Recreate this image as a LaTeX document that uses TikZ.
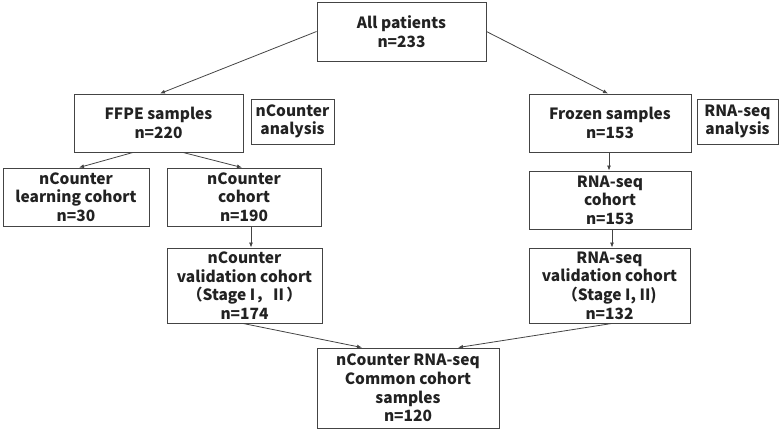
\documentclass[tikz,border=0pt]{standalone}
\usepackage{fontspec}
\setmainfont{Noto Sans CJK JP}
\usetikzlibrary{arrows.meta}
\definecolor{boxline}{HTML}{444444}
\definecolor{txt}{HTML}{222222}
\tikzset{
  box/.style={draw=boxline, line width=0.9pt, rectangle, align=center, inner sep=0pt,
    text=txt, font=\fontsize{15.5}{18.6}\selectfont\bfseries},
  arr/.style={draw=boxline, line width=0.8pt, -{Latex[length=5pt,width=4pt]}}
}
\begin{document}
\begin{tikzpicture}[x=1pt,y=-1pt]
\useasboundingbox (0,0) rectangle (780,431);
\node[box, minimum width=169, minimum height=59] (all) at (401.5,31.5) {All patients\\n=233};
\node[box, minimum width=169, minimum height=58] (ffpe) at (158.5,123) {FFPE samples\\n=220};
\node[box, minimum width=83, minimum height=45] (nana) at (292.5,121.5) {nCounter\\analysis};
\node[box, minimum width=146, minimum height=58] (learn) at (76,197) {nCounter\\learning cohort\\n=30};
\node[box, minimum width=154, minimum height=58] (ncoh) at (244,197) {nCounter\\cohort\\n=190};
\node[box, minimum width=155, minimum height=75] (nval) at (244.5,285.5) {nCounter\\validation cohort\\（Stage I，Ⅱ）\\n=174};
\node[box, minimum width=162, minimum height=58] (froz) at (610,123) {Frozen samples\\n=153};
\node[box, minimum width=81, minimum height=45] (rana) at (737.5,121.5) {RNA-seq\\analysis};
\node[box, minimum width=162, minimum height=58] (rcoh) at (610,200) {RNA-seq\\cohort\\n=153};
\node[box, minimum width=161, minimum height=75] (rval) at (609.5,285.5) {RNA-seq\\validation cohort\\（Stage I, II)\\n=132};
\node[box, minimum width=182, minimum height=80] (com) at (408,388) {nCounter RNA-seq\\Common cohort\\samples\\n=120};
\draw[arr] (all.west) -- ([xshift=1.5pt]ffpe.north);
\draw[arr] (all.east) -- ([xshift=-2pt]froz.north);
\draw[arr] ([xshift=-25.5pt]ffpe.south) -- ([xshift=3pt]learn.north);
\draw[arr] ([xshift=24.5pt]ffpe.south) -- ([xshift=-2pt]ncoh.north);
\draw[arr] ([xshift=7pt]ncoh.south) -- ([xshift=6.5pt]nval.north);
\draw[arr] ([xshift=-1pt]froz.south) -- ([xshift=-1pt]rcoh.north);
\draw[arr] ([xshift=2pt]rcoh.south) -- ([xshift=2.5pt]rval.north);
\draw[arr] ([xshift=-1.5pt]nval.south) -- ([xshift=-46pt]com.north);
\draw[arr] ([xshift=2.5pt]rval.south) -- ([xshift=50pt]com.north);
\end{tikzpicture}
\end{document}
